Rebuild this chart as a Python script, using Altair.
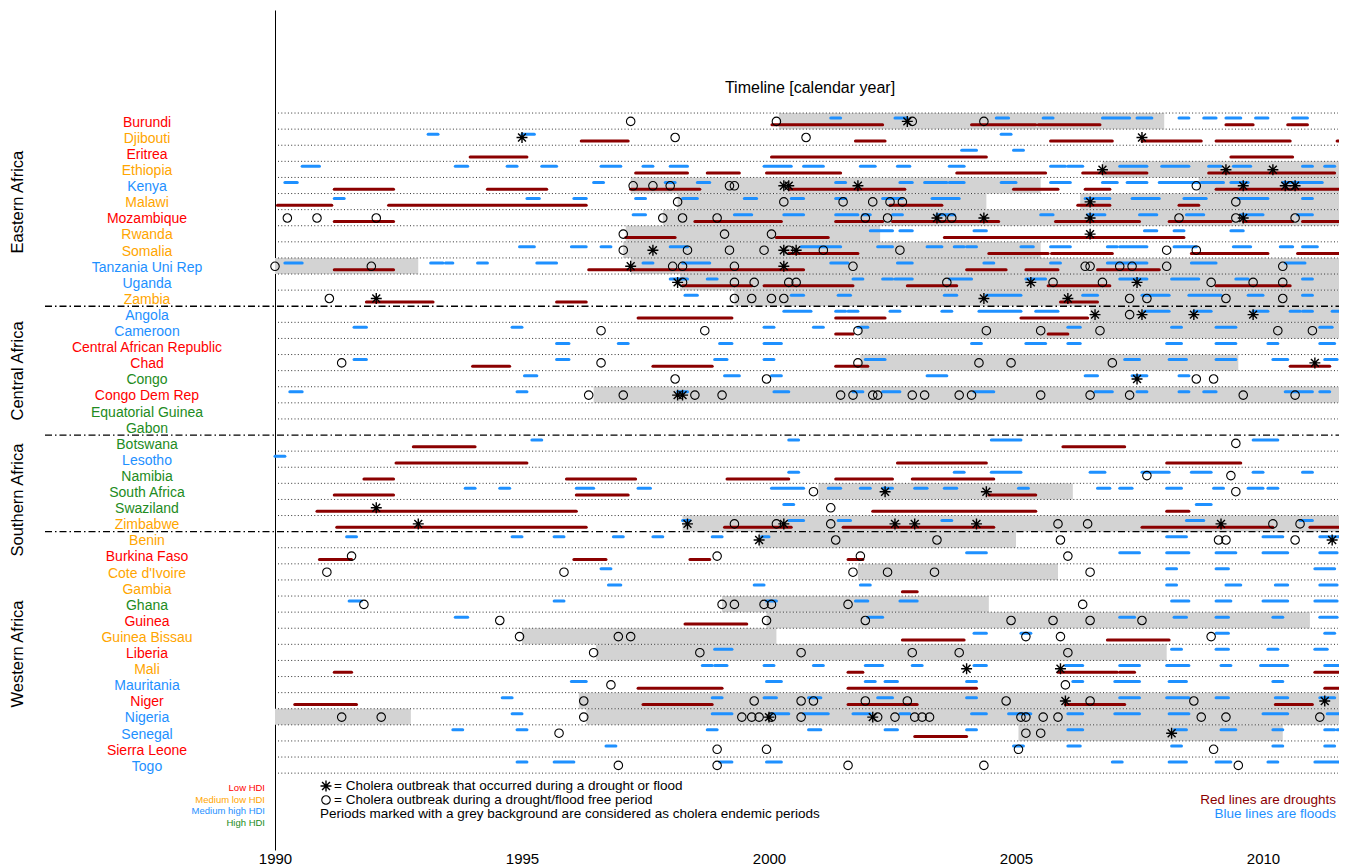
import altair as alt
import pandas as pd

FONT = "Liberation Sans"

countries = ["Burundi", "Djibouti", "Eritrea", "Ethiopia", "Kenya", "Malawi", "Mozambique", "Rwanda",
             "Somalia", "Tanzania Uni Rep", "Uganda", "Zambia",
             "Angola", "Cameroon", "Central African Republic", "Chad", "Congo", "Congo Dem Rep",
             "Equatorial Guinea", "Gabon",
             "Botswana", "Lesotho", "Namibia", "South Africa", "Swaziland", "Zimbabwe",
             "Benin", "Burkina Faso", "Cote d'Ivoire", "Gambia", "Ghana", "Guinea", "Guinea Bissau",
             "Liberia", "Mali", "Mauritania", "Niger", "Nigeria", "Senegal", "Sierra Leone", "Togo"]

hdi = ["Low", "Medium low", "Low", "Medium low", "Medium high", "Medium low", "Low", "Medium low",
       "Medium low", "Medium high", "Medium high", "Medium low",
       "Medium high", "Medium high", "Low", "Low", "High", "Low", "High", "High",
       "High", "Medium high", "High", "High", "High", "Medium low",
       "Medium low", "Low", "Medium low", "Medium low", "High", "Low", "Medium low",
       "Low", "Medium low", "Medium high", "Low", "Medium high", "Medium high", "Low", "Medium high"]

hdi_levels = ["Low", "Medium low", "Medium high", "High"]
hdi_labels = ["Low HDI", "Medium low HDI", "Medium high HDI", "High HDI"]
hdi_colors = ["#FF0000", "#FFA500", "#1E90FF", "#228B22"]

region_names = ["Eastern Africa", "Central Africa", "Southern Africa", "Western Africa"]
region_label_pos = [5.53, 16.02, 24.04, 33.6]
region_breaks = [12, 20, 26]

years_shown = [1990, 1995, 2000, 2005, 2010]

endemic = {
    "Burundi": [(2000.2, 2008.0)],
    "Ethiopia": [(2006.75, 2011.7)],
    "Kenya": [(1997.2, 2005.5), (2008.7, 2011.7)],
    "Malawi": [(1998.15, 2004.4), (2006.3, 2011.7)],
    "Mozambique": [(1997.85, 2011.7)],
    "Rwanda": [(1997.1, 2002.25)],
    "Somalia": [(1997.05, 2005.5)],
    "Tanzania Uni Rep": [(1990.0, 1992.9), (1997.2, 2011.7)],
    "Uganda": [(1998.2, 2011.7)],
    "Zambia": [(1999.3, 2011.7)],
    "Angola": [(2006.5, 2011.7)],
    "Cameroon": [(2001.85, 2011.7)],
    "Chad": [(2001.85, 2009.5)],
    "Congo Dem Rep": [(1996.45, 2011.7)],
    "South Africa": [(2001.0, 2006.15)],
    "Zimbabwe": [(1998.25, 2011.7)],
    "Benin": [(1999.8, 2005.0)],
    "Cote d'Ivoire": [(2001.8, 2005.85)],
    "Ghana": [(1999.05, 2004.45)],
    "Guinea": [(1999.95, 2010.95)],
    "Guinea Bissau": [(1995.0, 2000.15)],
    "Liberia": [(1996.5, 2008.05)],
    "Niger": [(1996.15, 2011.7)],
    "Nigeria": [(1990.0, 1992.75), (1996.3, 2011.7)],
    "Senegal": [(2005.05, 2010.4)],
}

droughts = {
    "Burundi": [(2000.06, 2002.3), (2004.1, 2005.4), (2005.45, 2006.7), (2009.25, 2009.8), (2010.5, 2010.9)],
    "Djibouti": [(1996.2, 1997.15), (2001.75, 2002.35), (2005.7, 2006.95), (2007.55, 2008.75),
                 (2009.05, 2010.55), (2011.5, 2011.7)],
    "Eritrea": [(1993.95, 1995.1), (2000.05, 2004.4), (2009.35, 2010.6)],
    "Ethiopia": [(1997.3, 1998.35), (1998.75, 1999.4), (1999.95, 2001.45), (2003.8, 2005.6),
                 (2006.35, 2007.65), (2008.9, 2011.45)],
    "Kenya": [(1991.2, 1992.4), (1994.3, 1995.5), (1997.2, 1998.6), (2000.4, 2002.75), (2004.95, 2005.85),
              (2006.4, 2006.9), (2009.05, 2011.7)],
    "Malawi": [(1990.05, 1991.15), (1992.3, 1996.3), (2002.45, 2003.5), (2006.25, 2006.9), (2008.3, 2008.7)],
    "Mozambique": [(1991.2, 1992.4), (1998.5, 2000.25), (2001.35, 2002.3), (2002.5, 2004.65), (2005.8, 2007.5),
                   (2008.1, 2009.35), (2009.6, 2010.6), (2010.8, 2011.6)],
    "Rwanda": [(1997.1, 1998.1), (2000.15, 2001.2), (2003.55, 2008.4)],
    "Somalia": [(2000.4, 2001.8), (2004.45, 2005.65), (2005.72, 2006.95), (2008.55, 2010.1), (2010.7, 2011.7)],
    "Tanzania Uni Rep": [(1991.2, 1992.4), (1996.35, 2000.7), (2004.0, 2004.8), (2005.2, 2005.85),
                         (2006.65, 2007.9)],
    "Uganda": [(1998.25, 1999.65), (1999.9, 2001.7), (2002.8, 2003.8), (2005.65, 2006.9), (2009.05, 2010.55)],
    "Zambia": [(1991.85, 1993.2), (1995.7, 1996.3), (2005.9, 2006.65)],
    "Angola": [(1997.35, 1999.25), (2001.35, 2002.35), (2005.1, 2006.45)],
    "Cameroon": [(2001.35, 2001.7), (2005.65, 2006.05)],
    "Chad": [(1994.0, 1994.75), (1997.65, 1998.85), (2001.35, 2002.0), (2010.55, 2011.35)],
    "Botswana": [(1992.8, 1994.05), (2005.95, 2007.2)],
    "Lesotho": [(1992.45, 1995.1), (2002.6, 2004.4), (2008.05, 2009.55)],
    "Namibia": [(1991.8, 1992.4), (1995.9, 1997.3), (1999.15, 2000.4), (2001.35, 2002.5), (2002.9, 2004.55)],
    "South Africa": [(1991.2, 1992.4), (1996.1, 1997.15), (2004.45, 2005.4)],
    "Swaziland": [(1990.85, 1996.1), (2002.1, 2005.4), (2008.05, 2008.5)],
    "Zimbabwe": [(1991.25, 1996.3), (1999.1, 2000.45), (2001.5, 2004.55), (2007.55, 2010.2), (2010.95, 2011.7)],
    "Burkina Faso": [(1990.9, 1991.55), (1996.05, 1996.7), (1998.4, 1998.8), (2001.6, 2001.9)],
    "Gambia": [(2002.7, 2003.0)],
    "Guinea": [(1998.3, 1999.55)],
    "Guinea Bissau": [(2002.7, 2003.95), (2006.85, 2008.1)],
    "Mali": [(1991.2, 1991.55), (2001.6, 2001.9), (2005.85, 2007.05), (2007.1, 2007.4), (2011.05, 2011.7)],
    "Mauritania": [(1997.35, 1999.05), (2001.6, 2004.2), (2011.25, 2011.7)],
    "Niger": [(1990.4, 1991.65), (1997.45, 1998.85), (2001.6, 2003.0), (2006.0, 2007.2), (2010.25, 2011.0)],
    "Senegal": [(2002.95, 2004.0)],
}

floods = {
    "Burundi": [(2001.25, 2001.45), (2002.55, 2002.8), (2004.6, 2004.85), (2005.55, 2005.75), (2006.75, 2007.3),
                (2007.45, 2007.75), (2008.3, 2008.5), (2008.8, 2009.05), (2009.25, 2009.55), (2009.85, 2010.1),
                (2010.6, 2010.9)],
    "Djibouti": [(1993.1, 1993.3), (1995.0, 1995.25), (2004.7, 2004.9)],
    "Eritrea": [(2003.9, 2004.2), (2004.95, 2005.15)],
    "Ethiopia": [(1990.55, 1990.9), (1993.65, 1993.9), (1994.7, 1994.9), (1995.4, 1995.7), (1996.6, 1997.0),
                 (1997.45, 1997.65), (1998.0, 1998.35), (1999.9, 2000.45), (2000.7, 2001.1), (2001.85, 2002.15),
                 (2002.6, 2002.85), (2003.65, 2003.95), (2005.7, 2006.0), (2006.05, 2006.35), (2007.1, 2007.65),
                 (2007.95, 2008.5), (2008.9, 2009.15), (2009.4, 2009.75), (2010.8, 2011.0), (2011.25, 2011.45)],
    "Kenya": [(1990.2, 1990.45), (1996.45, 1996.65), (1997.9, 1998.1), (1998.55, 1998.8), (2001.35, 2001.55),
              (2002.65, 2002.9), (2003.15, 2003.6), (2003.65, 2003.95), (2004.7, 2005.0), (2005.7, 2006.1),
              (2006.75, 2007.05), (2007.25, 2007.65), (2007.9, 2008.7), (2008.75, 2009.2), (2009.35, 2009.7),
              (2010.4, 2011.2)],
    "Malawi": [(1991.2, 1991.4), (1995.1, 1995.35), (1996.05, 1996.3), (1997.3, 1997.5), (1998.25, 1998.55),
               (1999.5, 1999.75), (2000.45, 2000.7), (2001.35, 2001.55), (2002.3, 2002.7), (2003.3, 2003.85),
               (2006.4, 2006.9), (2007.35, 2007.9), (2008.4, 2008.85), (2009.5, 2010.1), (2010.8, 2011.0)],
    "Mozambique": [(1997.25, 1997.5), (1999.3, 1999.65), (2000.3, 2000.7), (2001.35, 2001.8), (2001.9, 2002.05),
                   (2002.5, 2002.7), (2003.4, 2003.75), (2005.5, 2005.75), (2006.45, 2006.8), (2007.5, 2007.85),
                   (2008.45, 2008.8), (2009.55, 2010.0), (2010.7, 2011.0)],
    "Rwanda": [(2002.05, 2002.5), (2002.65, 2002.9), (2004.15, 2004.4), (2007.6, 2007.85), (2008.2, 2008.4),
               (2009.35, 2009.6)],
    "Somalia": [(1994.95, 1995.25), (1996.0, 1996.3), (1996.6, 1996.8), (1998.0, 1998.35), (2000.65, 2001.45),
                (2002.2, 2002.5), (2003.2, 2003.5), (2003.75, 2003.95), (2004.0, 2004.2), (2005.1, 2005.35),
                (2005.7, 2006.1), (2006.85, 2007.05), (2007.1, 2007.65), (2008.2, 2008.65), (2009.4, 2009.75),
                (2010.35, 2010.6), (2010.8, 2011.1)],
    "Tanzania Uni Rep": [(1990.2, 1990.55), (1993.15, 1993.4), (1993.45, 1993.6), (1994.1, 1994.3),
                         (1995.3, 1995.7), (1997.45, 1997.65), (1998.25, 1998.8), (2001.25, 2001.6),
                         (2002.6, 2002.9), (2004.35, 2004.55), (2005.7, 2005.9), (2006.85, 2007.65),
                         (2008.55, 2009.05), (2010.45, 2010.85)],
    "Uganda": [(1998.0, 1998.35), (1998.75, 1998.95), (2001.7, 2001.9), (2002.3, 2002.5), (2002.55, 2002.9),
               (2003.65, 2004.1), (2005.2, 2005.6), (2007.1, 2007.65), (2008.15, 2008.7), (2009.45, 2009.7),
               (2010.8, 2011.0)],
    "Zambia": [(1998.3, 1998.55), (2000.45, 2000.7), (2001.4, 2001.65), (2003.55, 2003.8), (2004.4, 2005.1),
               (2006.35, 2006.65), (2007.55, 2008.1), (2008.5, 2009.15), (2009.7, 2010.0), (2010.8, 2011.0)],
    "Angola": [(2000.3, 2000.85), (2001.35, 2001.55), (2001.6, 2001.8), (2002.45, 2002.65), (2003.5, 2003.7),
               (2004.25, 2005.1), (2005.4, 2005.85), (2007.6, 2008.1), (2008.6, 2008.95), (2009.8, 2010.1),
               (2010.55, 2010.75), (2010.8, 2011.0), (2011.4, 2011.6)],
    "Cameroon": [(1991.6, 1991.85), (1994.8, 1995.0), (1999.9, 2000.1), (2000.9, 2001.1), (2001.8, 2002.0),
                 (2006.05, 2006.3), (2008.15, 2008.35), (2009.05, 2009.45), (2011.15, 2011.4)],
    "Central African Republic": [(1995.7, 1995.95), (1996.95, 1997.15), (1999.0, 1999.25), (1999.9, 2000.25),
                                 (2004.1, 2004.3), (2005.2, 2005.6), (2006.05, 2006.3), (2008.05, 2008.35),
                                 (2009.05, 2009.45), (2010.1, 2010.3), (2011.15, 2011.45)],
    "Chad": [(1991.6, 1991.85), (1995.7, 1995.95), (1998.9, 1999.15), (1999.9, 2000.1), (2001.95, 2002.35),
             (2007.2, 2007.5), (2008.1, 2008.45), (2009.05, 2009.45), (2010.2, 2010.5), (2011.25, 2011.5)],
    "Congo": [(1995.05, 1995.3), (1999.1, 1999.4), (2000.05, 2000.25), (2003.2, 2003.6), (2006.4, 2006.65),
              (2007.35, 2007.65), (2008.3, 2008.5)],
    "Congo Dem Rep": [(1990.3, 1990.55), (1994.9, 1995.1), (1998.15, 1998.35), (2000.1, 2000.4), (2001.7, 2001.9),
                      (2002.3, 2002.65), (2004.15, 2004.55), (2006.6, 2006.95), (2007.45, 2007.65),
                      (2008.3, 2008.5), (2008.8, 2009.05), (2010.45, 2011.0), (2011.15, 2011.35)],
    "Botswana": [(1995.2, 1995.4), (2000.4, 2000.6), (2004.5, 2005.1), (2009.8, 2010.3)],
    "Lesotho": [(1990.0, 1990.2)],
    "Namibia": [(2000.4, 2000.6), (2003.75, 2003.95), (2004.5, 2005.1), (2006.5, 2006.8), (2007.55, 2008.1),
                (2008.55, 2008.95), (2009.8, 2010.0), (2010.8, 2011.0)],
    "South Africa": [(1993.85, 1994.05), (1994.55, 1994.75), (1996.1, 1996.45), (1997.35, 1997.6),
                     (2000.05, 2000.7), (2001.2, 2001.45), (2001.85, 2002.05), (2002.3, 2002.5), (2002.95, 2003.2),
                     (2003.55, 2003.8), (2005.05, 2005.25), (2006.65, 2006.9), (2007.1, 2007.35),
                     (2008.05, 2008.35), (2009.0, 2009.2), (2009.7, 2010.0), (2010.1, 2010.3)],
    "Swaziland": [(2000.3, 2000.5), (2008.65, 2008.95)],
    "Zimbabwe": [(1998.25, 1998.4), (2000.4, 2000.7), (2001.4, 2001.65), (2003.5, 2003.7), (2008.45, 2008.8),
                 (2010.75, 2011.0)],
    "Benin": [(1991.45, 1991.65), (1994.8, 1995.0), (1995.65, 1995.85), (1996.85, 1997.05), (1997.65, 1997.85),
              (1998.85, 1999.05), (1999.85, 2000.0), (2008.05, 2008.45), (2010.0, 2010.4), (2011.15, 2011.7)],
    "Burkina Faso": [(2004.0, 2004.4), (2007.1, 2007.5), (2008.05, 2008.5), (2009.05, 2009.45), (2010.0, 2010.5),
                     (2011.15, 2011.5)],
    "Cote d'Ivoire": [(1996.6, 1996.8), (2008.05, 2008.25), (2009.05, 2009.3), (2011.05, 2011.45)],
    "Gambia": [(1996.75, 1997.0), (1999.7, 1999.9), (2001.85, 2002.05), (2008.05, 2008.25), (2009.25, 2009.55),
               (2010.25, 2010.5), (2011.15, 2011.5)],
    "Ghana": [(1991.5, 1991.75), (1995.65, 1995.85), (1999.95, 2000.15), (2001.75, 2002.0), (2002.65, 2003.0),
              (2008.15, 2008.5), (2009.05, 2009.35), (2010.0, 2010.5), (2011.05, 2011.5)],
    "Guinea": [(1993.65, 1993.9), (2002.0, 2002.3), (2007.1, 2007.4), (2008.2, 2008.45), (2009.05, 2009.3),
               (2010.2, 2010.4), (2011.15, 2011.5)],
    "Guinea Bissau": [(2004.15, 2004.4), (2005.1, 2005.3), (2009.05, 2009.3), (2011.25, 2011.45)],
    "Liberia": [(1998.9, 1999.25), (2008.15, 2008.35), (2009.05, 2009.3), (2010.1, 2010.3), (2011.05, 2011.3)],
    "Mali": [(1998.65, 1998.85), (1998.9, 1999.15), (1999.9, 2000.1), (2000.9, 2001.1), (2001.95, 2002.3),
             (2002.9, 2003.1), (2004.15, 2004.4), (2006.0, 2006.35), (2007.1, 2007.5), (2008.05, 2008.5),
             (2009.15, 2009.35), (2009.95, 2010.5), (2011.25, 2011.55)],
    "Mauritania": [(1996.0, 1996.3), (1999.95, 2000.25), (2001.95, 2002.15), (2002.35, 2002.6), (2004.0, 2004.2),
                   (2006.15, 2006.35), (2007.0, 2007.5), (2008.1, 2008.45), (2010.2, 2010.4)],
    "Niger": [(1994.6, 1994.8), (1998.85, 1999.05), (1999.9, 2000.15), (2000.8, 2001.05), (2002.2, 2002.5),
              (2004.0, 2004.2), (2007.1, 2007.5), (2008.05, 2008.5), (2009.05, 2009.3), (2010.25, 2010.5),
              (2011.15, 2011.45)],
    "Nigeria": [(1994.8, 1995.0), (1998.85, 1999.25), (2000.05, 2000.4), (2000.7, 2001.2), (2001.7, 2002.05),
                (2002.65, 2002.85), (2004.1, 2004.4), (2004.85, 2005.3), (2006.05, 2006.35), (2007.0, 2007.5),
                (2008.1, 2008.5), (2010.0, 2010.5), (2011.3, 2011.55)],
    "Senegal": [(1993.6, 1993.8), (1994.9, 1995.1), (1998.75, 1998.95), (2000.8, 2001.05), (2002.35, 2002.6),
                (2004.0, 2004.2), (2006.05, 2006.35), (2008.2, 2008.45), (2009.15, 2009.45), (2010.2, 2010.4),
                (2011.25, 2011.45), (2011.5, 2011.7)],
    "Sierra Leone": [(1996.7, 1996.9), (2004.95, 2005.15), (2006.05, 2006.3), (2008.15, 2008.35),
                     (2010.2, 2010.4), (2011.25, 2011.45)],
    "Togo": [(1994.9, 1995.1), (1995.65, 1996.05), (1999.0, 1999.25), (1999.95, 2000.25), (2006.95, 2007.15),
             (2008.1, 2008.45), (2009.05, 2009.35), (2010.1, 2010.3), (2011.05, 2011.6)],
}

outbreak_in_event = {
    "Burundi": [2002.8],
    "Djibouti": [1995.0, 2007.55],
    "Ethiopia": [2006.75, 2009.25, 2010.2],
    "Kenya": [2000.3, 2000.4, 2001.8, 2009.6, 2010.45, 2010.65],
    "Malawi": [2006.5],
    "Mozambique": [2003.4, 2004.35, 2006.5, 2009.6],
    "Rwanda": [2006.5],
    "Somalia": [1997.65, 2000.3, 2000.55],
    "Tanzania Uni Rep": [1997.2, 2000.3],
    "Uganda": [1998.15, 2005.3, 2007.45],
    "Zambia": [1992.05, 2004.35, 2006.05],
    "Angola": [2006.6, 2007.55, 2008.6, 2009.8],
    "Chad": [2011.05],
    "Congo": [2007.45],
    "Congo Dem Rep": [1998.15, 1998.25],
    "South Africa": [2002.35, 2004.4],
    "Swaziland": [1992.05],
    "Zimbabwe": [1992.9, 1998.35, 2000.3, 2002.55, 2002.95, 2004.2, 2009.15],
    "Benin": [1999.8, 2011.4],
    "Mali": [2004.0, 2005.9],
    "Niger": [2006.0, 2011.25],
    "Nigeria": [2000.0, 2002.1],
    "Senegal": [2008.15],
}

outbreak_free = {
    "Burundi": [1997.2, 2000.15, 2002.9, 2004.35],
    "Djibouti": [1998.1, 2000.75],
    "Kenya": [1997.25, 1997.65, 1998.0, 1999.2, 1999.3, 2008.65, 2010.55],
    "Malawi": [1998.15, 2000.3, 2001.5, 2002.1, 2002.45, 2002.7, 2009.45],
    "Mozambique": [1990.25, 1990.85, 1992.05, 1997.85, 1998.25, 1998.95, 2001.95, 2002.4, 2003.5, 2003.7,
                   2008.3, 2009.45, 2010.65],
    "Rwanda": [1997.05, 1999.1, 2000.05],
    "Somalia": [1997.05, 1998.35, 1999.2, 1999.9, 2000.4, 2001.1, 2002.65, 2008.05, 2008.65],
    "Tanzania Uni Rep": [1990.0, 1991.95, 1998.05, 1998.25, 1999.3, 2001.7, 2006.4, 2006.5, 2007.1, 2007.35,
                         2008.05, 2010.4],
    "Uganda": [1998.25, 1999.3, 1999.7, 2000.4, 2000.55, 2003.6, 2005.75, 2006.75, 2008.95, 2009.8, 2010.4],
    "Zambia": [1991.1, 1999.3, 1999.65, 2000.05, 2000.3, 2007.3, 2007.65, 2009.25, 2010.4],
    "Angola": [2007.3],
    "Cameroon": [1996.6, 1998.7, 2001.8, 2004.4, 2005.5, 2006.7, 2010.3, 2011.0],
    "Chad": [1991.35, 1996.6, 2001.8, 2004.25, 2004.9, 2006.95],
    "Congo": [1998.1, 1999.95, 2008.65, 2009.0],
    "Congo Dem Rep": [1996.35, 1997.05, 1998.5, 1999.05, 2001.45, 2001.7, 2002.1, 2002.2, 2002.9, 2003.15,
                      2003.85, 2004.1, 2005.5, 2006.5, 2007.3, 2009.6, 2010.65],
    "Botswana": [2009.45],
    "Namibia": [2007.65, 2009.35],
    "South Africa": [2000.9, 2009.45],
    "Swaziland": [2001.25],
    "Zimbabwe": [1999.3, 2000.15, 2001.25, 2005.85, 2006.45, 2010.2, 2010.75],
    "Benin": [2001.35, 2003.4, 2005.9, 2009.1, 2009.25, 2010.65],
    "Burkina Faso": [1991.55, 1998.95, 2001.85, 2006.05],
    "Cote d'Ivoire": [1991.05, 1995.85, 2001.7, 2002.4, 2003.35, 2006.5],
    "Ghana": [1991.8, 1999.05, 1999.3, 1999.9, 2000.05, 2001.6, 2006.35],
    "Guinea": [1994.55, 1999.95, 2001.95, 2004.9, 2005.75, 2006.5, 2007.55],
    "Guinea Bissau": [1994.95, 1996.95, 1997.2, 2005.2, 2005.9, 2008.95],
    "Liberia": [1996.45, 1998.6, 2000.65, 2002.9, 2003.85, 2006.05],
    "Mauritania": [1996.8, 2006.0],
    "Niger": [1996.25, 1999.7, 2000.65, 2000.9, 2001.95, 2002.8, 2004.8, 2006.5, 2008.6],
    "Nigeria": [1991.35, 1992.15, 1996.25, 1999.45, 1999.65, 1999.8, 2000.05, 2000.65, 2002.2, 2002.55,
                2002.95, 2003.1, 2003.25, 2005.1, 2005.2, 2005.55, 2005.85, 2008.75, 2009.25, 2011.15],
    "Senegal": [1995.75, 2005.2, 2005.5],
    "Sierra Leone": [1998.95, 1999.95, 2005.05, 2009.0],
    "Togo": [1996.95, 1998.95, 2001.6, 2004.35, 2009.5],
}

# ---------------------------------------------------------------- frames
BLUE_OFF, MARK_OFF, RED_OFF, LABEL_OFF = 0.31, 0.52, 0.73, 0.6


def seg_frame(d, off):
    recs = []
    for c, segs in d.items():
        i = countries.index(c)
        for s, e in segs:
            recs.append({"country": c, "start": s, "end": e, "y": i + off, "y2": i + 1})
    return pd.DataFrame(recs)


def pt_frame(d):
    recs = []
    for c, ys in d.items():
        i = countries.index(c)
        for v in ys:
            recs.append({"country": c, "year": v, "y": i + MARK_OFF})
    return pd.DataFrame(recs)


grey_df = seg_frame(endemic, 0.0)
red_df = seg_frame(droughts, RED_OFF)
blue_df = seg_frame(floods, BLUE_OFF)
ast_df = pt_frame(outbreak_in_event)
circ_df = pt_frame(outbreak_free)

n = len(countries)
dotted_df = pd.DataFrame({"b": [k for k in range(n + 1) if k not in region_breaks]})
dashed_df = pd.DataFrame({"b": region_breaks})
label_df = pd.DataFrame({"country": countries, "hdi": hdi, "y": [i + LABEL_OFF for i in range(n)]})
region_df = pd.DataFrame({"region": region_names, "y": region_label_pos})

# ---------------------------------------------------------------- scales
W, H = 1064, 840
XMAX = 1990 + W / 49.4
xs = alt.Scale(domain=[1990, XMAX], clamp=True, nice=False, zero=False)
ys = alt.Scale(domain=[-6.4, -6.4 + H / 16.1], reverse=True, nice=False, zero=False)
x_axis = alt.Axis(values=years_shown, format="d", domain=False, ticks=False, grid=False,
                  labelFontSize=15, labelFont=FONT, labelColor="black", labelPadding=1, title=None,
                  labelFlush=False)
y_axis = alt.Axis(domain=True, domainColor="black", domainWidth=1, ticks=False, labels=False,
                  grid=False, title=None)

grey = alt.Chart(grey_df).mark_rect(color="#D3D3D3").encode(
    x=alt.X("start:Q", scale=xs, axis=x_axis), x2="end:Q",
    y=alt.Y("y:Q", scale=ys, axis=y_axis), y2="y2:Q")

dotted = alt.Chart(dotted_df).mark_rule(color="#333333", strokeWidth=1, strokeDash=[1, 2.3]).encode(
    x=alt.value(3), x2=alt.value(W - 1), y=alt.Y("b:Q", scale=ys, axis=y_axis))

dashed = alt.Chart(dashed_df).mark_rule(color="black", strokeWidth=1.3, strokeDash=[7, 3, 1.5, 3]).encode(
    x=alt.value(-230), x2=alt.value(W), y=alt.Y("b:Q", scale=ys, axis=y_axis))

blue = alt.Chart(blue_df).mark_rule(color="#1E90FF", strokeWidth=3, strokeCap="round").encode(
    x=alt.X("start:Q", scale=xs, axis=x_axis), x2="end:Q", y=alt.Y("y:Q", scale=ys, axis=y_axis))

red = alt.Chart(red_df).mark_rule(color="#8B0000", strokeWidth=3, strokeCap="round").encode(
    x=alt.X("start:Q", scale=xs, axis=x_axis), x2="end:Q", y=alt.Y("y:Q", scale=ys, axis=y_axis))

ASTER = "M-1,0L1,0M0,-1L0,1M-0.72,-0.72L0.72,0.72M-0.72,0.72L0.72,-0.72"

circles = alt.Chart(circ_df).mark_point(shape="circle", filled=False, stroke="black", strokeWidth=1.1,
                                        size=72, opacity=1).encode(
    x=alt.X("year:Q", scale=xs, axis=x_axis), y=alt.Y("y:Q", scale=ys, axis=y_axis))

asters = alt.Chart(ast_df).mark_point(shape=ASTER, filled=False, stroke="black", strokeWidth=1.4,
                                      size=120, opacity=1).encode(
    x=alt.X("year:Q", scale=xs, axis=x_axis), y=alt.Y("y:Q", scale=ys, axis=y_axis))

labels = alt.Chart(label_df).mark_text(font=FONT, fontSize=14, align="center", baseline="middle").encode(
    x=alt.value(-128), y=alt.Y("y:Q", scale=ys, axis=y_axis),
    text="country:N",
    color=alt.Color("hdi:N", scale=alt.Scale(domain=hdi_levels, range=hdi_colors), legend=None))

regions = alt.Chart(region_df).mark_text(font=FONT, fontSize=16.5, angle=270, align="center",
                                         baseline="middle", color="black").encode(
    x=alt.value(-257), y=alt.Y("y:Q", scale=ys, axis=y_axis), text="region:N")


def txt(s, x, y, color="black", align="left", size=13.5):
    return alt.Chart(pd.DataFrame({"t": [s]})).mark_text(
        font=FONT, fontSize=size, align=align, baseline="middle", color=color).encode(
        x=alt.value(x), y=alt.value(y), text="t:N")


title = txt("Timeline [calendar year]", 535, 78, align="center", size=16)

hdi_legs = [txt(hdi_labels[k], -10, 778 + 11.7 * k, color=hdi_colors[k], align="right", size=9.5)
            for k in range(4)]

leg_sym1 = alt.Chart(pd.DataFrame({"a": [0]})).mark_point(
    shape=ASTER, filled=False, stroke="black", strokeWidth=1.4, size=120, opacity=1).encode(
    x=alt.value(51), y=alt.value(776))
leg_sym2 = alt.Chart(pd.DataFrame({"a": [0]})).mark_point(
    shape="circle", filled=False, stroke="black", strokeWidth=1.1, size=72, opacity=1).encode(
    x=alt.value(51), y=alt.value(790))

leg_t1 = txt("= Cholera outbreak that occurred during a drought or flood", 59, 776)
leg_t2 = txt("= Cholera outbreak during a drought/flood free period", 59, 790)
leg_t3 = txt("Periods marked with a grey background are considered as cholera endemic periods", 45, 804)
leg_r = txt("Red lines are droughts", 1061, 790, color="#8B0000", align="right")
leg_b = txt("Blue lines are floods", 1061, 804, color="#1E90FF", align="right")

chart = alt.layer(
    grey, dotted, dashed, blue, red, circles, asters, labels, regions, title,
    *hdi_legs, leg_sym1, leg_sym2, leg_t1, leg_t2, leg_t3, leg_r, leg_b
).properties(
    width=W, height=H, autosize="none",
    padding={"left": 267, "top": 2, "right": 0, "bottom": 17},
    background="white"
).configure_view(strokeWidth=0)

chart.save("out.html", embed_options={"renderer": "svg", "actions": False})
